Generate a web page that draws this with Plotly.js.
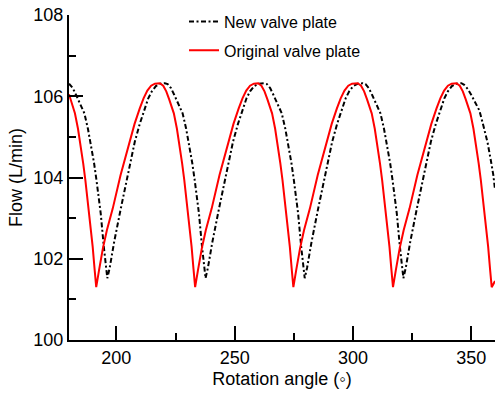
<!DOCTYPE html>
<html>
<head>
<meta charset="utf-8">
<script src="https://cdn.plot.ly/plotly-3.0.1.min.js"></script>
<style>html,body{margin:0;padding:0;background:#fff;}#chart{width:497px;height:394px;}</style>
</head>
<body>
<div id="chart"></div>
<script>
// New valve plate (black dash-dot)
const newAngle = [180.0,181.6,183.0,184.7,186.5,188.0,189.5,190.6,191.6,193.4,194.7,195.5,196.2,
  197.2,199.1,201.9,204.7,207.8,209.9,212.0,213.5,215.0,216.7,218.7,220.5,
  221.7,223.1,224.5,226.2,228.0,229.5,231.0,232.1,233.1,234.9,236.2,237.0,237.7,
  238.7,240.6,243.4,246.2,249.3,251.4,253.5,255.0,256.5,258.2,260.2,262.4,
  263.6,265.0,266.4,268.1,269.9,271.4,272.9,274.0,275.0,276.8,278.1,278.9,279.6,
  280.6,282.5,285.3,288.1,291.2,293.3,295.4,296.9,298.4,300.1,302.1,304.1,
  305.3,306.7,308.1,309.8,311.6,313.1,314.6,315.7,316.7,318.5,319.8,320.6,321.3,
  322.3,324.2,327.0,329.8,332.9,335.0,337.1,338.6,340.1,341.8,343.8,345.8,
  347.0,348.5,350.0,351.7,353.4,355.2,356.9,358.3,359.3,360.0];
const newFlow = [106.31,106.20,106.03,105.82,105.58,105.20,104.76,104.35,103.94,103.12,102.30,101.80,101.52,
  101.78,102.42,103.24,104.06,104.88,105.32,105.70,105.95,106.12,106.25,106.31,106.32,
  106.30,106.20,106.03,105.82,105.58,105.20,104.76,104.35,103.94,103.12,102.30,101.80,101.52,
  101.78,102.42,103.24,104.06,104.88,105.32,105.70,105.95,106.12,106.25,106.31,106.32,
  106.30,106.20,106.03,105.82,105.58,105.20,104.76,104.35,103.94,103.12,102.30,101.80,101.52,
  101.78,102.42,103.24,104.06,104.88,105.32,105.70,105.95,106.12,106.25,106.31,106.32,
  106.30,106.20,106.03,105.82,105.58,105.20,104.76,104.35,103.94,103.12,102.30,101.80,101.52,
  101.78,102.42,103.24,104.06,104.88,105.32,105.70,105.95,106.12,106.25,106.31,106.32,
  106.28,106.18,106.03,105.85,105.65,105.25,104.85,104.40,104.06,103.70];

// Original valve plate (red solid)
const origAngle = [180.0,181.0,182.5,183.8,185.0,186.0,186.9,188.5,190.0,190.8,191.5,
  192.7,194.3,196.0,198.5,201.8,205.5,207.7,209.9,211.5,213.1,214.7,216.3,218.4,
  219.8,221.1,222.3,223.3,224.3,225.6,226.8,227.8,228.7,230.3,231.8,232.6,233.3,
  234.5,236.1,237.8,240.3,243.6,247.3,249.5,251.7,253.3,254.9,256.5,258.1,259.9,
  261.3,262.6,263.8,264.8,265.8,267.1,268.3,269.3,270.2,271.8,273.3,274.1,274.8,
  276.0,277.6,279.3,281.8,285.1,288.8,291.0,293.2,294.8,296.4,298.0,299.6,302.0,
  303.4,304.7,305.9,306.9,307.9,309.2,310.4,311.4,312.3,313.9,315.4,316.2,316.9,
  318.1,319.7,321.4,323.9,327.2,330.9,333.1,335.3,336.9,338.5,340.1,341.7,343.7,
  345.1,346.4,347.6,348.6,349.6,350.9,352.1,353.1,354.0,355.6,357.1,357.9,358.6,360.0];
const origFlow = [106.05,105.85,105.58,105.20,104.76,104.35,103.94,103.12,102.30,101.75,101.30,
  101.72,102.25,102.70,103.24,104.06,104.88,105.32,105.70,105.95,106.14,106.26,106.31,106.32,
  106.26,106.12,105.93,105.76,105.58,105.20,104.76,104.35,103.94,103.12,102.30,101.75,101.30,
  101.72,102.25,102.70,103.24,104.06,104.88,105.32,105.70,105.95,106.14,106.26,106.31,106.32,
  106.26,106.12,105.93,105.76,105.58,105.20,104.76,104.35,103.94,103.12,102.30,101.75,101.30,
  101.72,102.25,102.70,103.24,104.06,104.88,105.32,105.70,105.95,106.14,106.26,106.31,106.32,
  106.26,106.12,105.93,105.76,105.58,105.20,104.76,104.35,103.94,103.12,102.30,101.75,101.30,
  101.72,102.25,102.70,103.24,104.06,104.88,105.32,105.70,105.95,106.14,106.26,106.31,106.32,
  106.26,106.12,105.93,105.76,105.58,105.20,104.76,104.35,103.94,103.12,102.30,101.75,101.30,101.45];

const seriesNames = ["New valve plate", "Original valve plate"];
const xTitle = "Rotation angle (\u25E6)";
const yTitle = "Flow (L/min)";

const FONT = "Liberation Sans, Arial, sans-serif";

const traces = [
  {x: newAngle, y: newFlow, type: "scatter", mode: "lines", name: seriesNames[0],
   legendgroup: "a", line: {color: "#000000", width: 2, dash: "5px,2.5px,2px,2.5px"}},
  {x: origAngle, y: origFlow, type: "scatter", mode: "lines", name: seriesNames[1],
   legendgroup: "b", line: {color: "#ff0000", width: 2}}
];

const axisCommon = {
  showline: true, linecolor: "#000", linewidth: 2, mirror: false,
  showgrid: false, zeroline: false,
  ticks: "inside", ticklen: 14, tickwidth: 2, tickcolor: "#000",
  tickfont: {family: FONT, size: 18, color: "#000"}
};

const layout = {
  width: 497, height: 394,
  margin: {l: 69, r: 2, t: 15, b: 54, pad: 0},
  paper_bgcolor: "#fff", plot_bgcolor: "#fff",
  showlegend: true,
  legend: {x: 0.27, y: 1.032, xanchor: "left", yanchor: "top",
           bgcolor: "rgba(0,0,0,0)", borderwidth: 0, tracegroupgap: 5,
           font: {family: FONT, size: 16, color: "#000"}},
  xaxis: Object.assign({}, axisCommon, {
    range: [180, 360], tick0: 0, dtick: 50,
    minor: {ticks: "inside", ticklen: 7, tickwidth: 2, tickcolor: "#000", dtick: 25, tick0: 0, showgrid: false},
    title: {text: xTitle, font: {family: FONT, size: 18, color: "#000"}, standoff: 6}
  }),
  yaxis: Object.assign({}, axisCommon, {
    range: [100, 108], tick0: 100, dtick: 2,
    minor: {ticks: "inside", ticklen: 7, tickwidth: 2, tickcolor: "#000", dtick: 1, tick0: 100, showgrid: false},
    title: {text: yTitle, font: {family: FONT, size: 18, color: "#000"}, standoff: 6}
  })
};

Plotly.newPlot("chart", traces, layout, {staticPlot: true, displayModeBar: false});
</script>
</body>
</html>
